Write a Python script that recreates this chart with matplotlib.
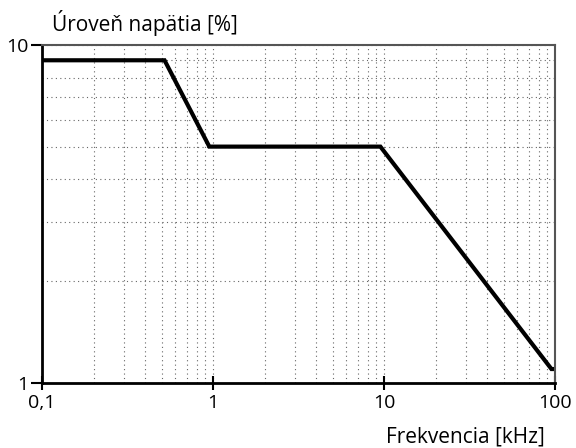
import matplotlib.pyplot as plt
from matplotlib.ticker import FixedLocator, LogLocator, NullFormatter

plt.rcParams['font.family'] = ['Open Sans', 'DejaVu Sans']

# frekvencia [kHz] a úroveň napätia [%]
freq = [0.1, 0.52, 0.95, 9.5, 95, 100]
level = [9, 9, 5, 5, 1.1, 1.1]

x_ticks = [0.1, 1, 10, 100]
x_labels = ["0,1", "1", "10", "100"]
y_ticks = [1, 10]
y_labels = ["1", "10"]

fig = plt.figure(figsize=(5.76, 4.48), dpi=100)
ax = fig.add_axes([0.073, 0.145, 0.891, 0.755])

ax.plot(freq, level, color="black", lw=3, solid_joinstyle="miter")

ax.set_xscale("log")
ax.set_yscale("log")
ax.set_xlim(0.1, 100)
ax.set_ylim(1, 10)

ax.xaxis.set_major_locator(FixedLocator(x_ticks))
ax.set_xticklabels(x_labels)
ax.yaxis.set_major_locator(FixedLocator(y_ticks))
ax.set_yticklabels(y_labels)
ax.xaxis.set_minor_locator(LogLocator(base=10, subs=range(2, 10)))
ax.yaxis.set_minor_locator(LogLocator(base=10, subs=range(2, 10)))
ax.xaxis.set_minor_formatter(NullFormatter())
ax.yaxis.set_minor_formatter(NullFormatter())

ax.grid(which="both", color="#666666", linestyle=(0, (1, 3)), lw=0.8)
ax.tick_params(which="minor", length=0)
ax.tick_params(axis="x", which="major", direction="inout", length=10, width=1.5, labelsize=14, pad=3)
ax.tick_params(axis="y", which="major", direction="out", length=8, width=1.5, labelsize=14, pad=2)

for s in ["left", "bottom"]:
    ax.spines[s].set_linewidth(2)
for s in ["top", "right"]:
    ax.spines[s].set_linewidth(1.5)
    ax.spines[s].set_color("#555555")

fig.text(0.09, 0.931, "Úroveň napätia [%]", fontsize=15, ha="left", va="baseline")
fig.text(0.946, 0.013, "Frekvencia [kHz]", fontsize=15, ha="right", va="baseline")

fig.savefig("out.png")
